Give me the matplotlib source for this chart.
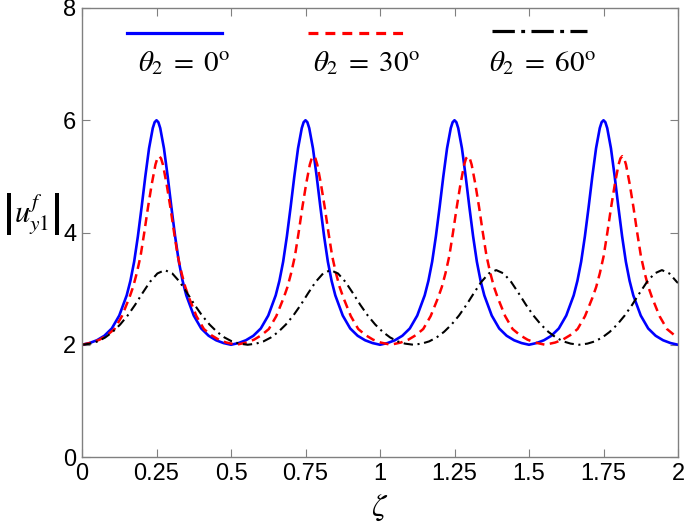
import matplotlib
matplotlib.use("Agg")
import matplotlib.pyplot as plt

# ---------------- data ----------------
blue_x = [0.0, 0.025, 0.05, 0.075, 0.1, 0.125, 0.15, 0.1625, 0.175, 0.1875, 0.2, 0.2125, 0.225, 0.2375, 0.24375,
          0.25, 0.25625, 0.2625, 0.275, 0.2875, 0.3, 0.3125, 0.325, 0.3375, 0.35, 0.375, 0.4, 0.425, 0.45, 0.475,
          0.5, 0.525, 0.55, 0.575, 0.6, 0.625, 0.65, 0.6625, 0.675, 0.6875, 0.7, 0.7125, 0.725, 0.7375, 0.74375,
          0.75, 0.75625, 0.7625, 0.775, 0.7875, 0.8, 0.8125, 0.825, 0.8375, 0.85, 0.875, 0.9, 0.925, 0.95, 0.975,
          1.0, 1.025, 1.05, 1.075, 1.1, 1.125, 1.15, 1.1625, 1.175, 1.1875, 1.2, 1.2125, 1.225, 1.2375, 1.24375,
          1.25, 1.25625, 1.2625, 1.275, 1.2875, 1.3, 1.3125, 1.325, 1.3375, 1.35, 1.375, 1.4, 1.425, 1.45, 1.475,
          1.5, 1.525, 1.55, 1.575, 1.6, 1.625, 1.65, 1.6625, 1.675, 1.6875, 1.7, 1.7125, 1.725, 1.7375, 1.74375,
          1.75, 1.75625, 1.7625, 1.775, 1.7875, 1.8, 1.8125, 1.825, 1.8375, 1.85, 1.875, 1.9, 1.925, 1.95, 1.975,
          2.0]
blue_y = [2.00, 2.03, 2.08, 2.16, 2.29, 2.52, 2.88, 3.14, 3.48, 3.93, 4.45, 5.00, 5.50, 5.86, 5.965,
          6.00, 5.965, 5.86, 5.50, 5.00, 4.45, 3.93, 3.48, 3.14, 2.88, 2.52, 2.29, 2.16, 2.08, 2.03,
          2.00, 2.03, 2.08, 2.16, 2.29, 2.52, 2.88, 3.14, 3.48, 3.93, 4.45, 5.00, 5.50, 5.86, 5.965,
          6.00, 5.965, 5.86, 5.50, 5.00, 4.45, 3.93, 3.48, 3.14, 2.88, 2.52, 2.29, 2.16, 2.08, 2.03,
          2.00, 2.03, 2.08, 2.16, 2.29, 2.52, 2.88, 3.14, 3.48, 3.93, 4.45, 5.00, 5.50, 5.86, 5.965,
          6.00, 5.965, 5.86, 5.50, 5.00, 4.45, 3.93, 3.48, 3.14, 2.88, 2.52, 2.29, 2.16, 2.08, 2.03,
          2.00, 2.03, 2.08, 2.16, 2.29, 2.52, 2.88, 3.14, 3.48, 3.93, 4.45, 5.00, 5.50, 5.86, 5.965,
          6.00, 5.965, 5.86, 5.50, 5.00, 4.45, 3.93, 3.48, 3.14, 2.88, 2.52, 2.29, 2.16, 2.08, 2.03,
          2.00]

red_x = [0.0, 0.034, 0.059, 0.084, 0.109, 0.134, 0.159, 0.1715, 0.184, 0.1965, 0.209, 0.2215, 0.234, 0.2465, 0.25275,
         0.259, 0.26525, 0.2715, 0.284, 0.2965, 0.309, 0.3215, 0.334, 0.3465, 0.359, 0.384, 0.409, 0.434, 0.459, 0.484,
         0.518, 0.552, 0.577, 0.602, 0.627, 0.652, 0.677, 0.6895, 0.702, 0.7145, 0.727, 0.7395, 0.752, 0.7645, 0.77075,
         0.777, 0.78325, 0.7895, 0.802, 0.8145, 0.827, 0.8395, 0.852, 0.8645, 0.877, 0.902, 0.927, 0.952, 0.977, 1.002,
         1.036, 1.07, 1.095, 1.12, 1.145, 1.17, 1.195, 1.2075, 1.22, 1.2325, 1.245, 1.2575, 1.27, 1.2825, 1.28875,
         1.295, 1.30125, 1.3075, 1.32, 1.3325, 1.345, 1.3575, 1.37, 1.3825, 1.395, 1.42, 1.445, 1.47, 1.495, 1.52,
         1.554, 1.588, 1.613, 1.638, 1.663, 1.688, 1.713, 1.7255, 1.738, 1.7505, 1.763, 1.7755, 1.788, 1.8005, 1.80675,
         1.813, 1.81925, 1.8255, 1.838, 1.8505, 1.863, 1.8755, 1.888, 1.9005, 1.913, 1.938, 1.963, 1.988,
         2.0]
red_y = [2.00, 2.04, 2.09, 2.17, 2.28, 2.51, 2.84, 3.03, 3.28, 3.58, 4.00, 4.45, 4.86, 5.21, 5.32,
         5.36, 5.32, 5.21, 4.86, 4.45, 4.00, 3.58, 3.28, 3.03, 2.84, 2.51, 2.28, 2.17, 2.09, 2.04,
         2.00, 2.04, 2.09, 2.17, 2.28, 2.51, 2.84, 3.03, 3.28, 3.58, 4.00, 4.45, 4.86, 5.21, 5.32,
         5.36, 5.32, 5.21, 4.86, 4.45, 4.00, 3.58, 3.28, 3.03, 2.84, 2.51, 2.28, 2.17, 2.09, 2.04,
         2.00, 2.04, 2.09, 2.17, 2.28, 2.51, 2.84, 3.03, 3.28, 3.58, 4.00, 4.45, 4.86, 5.21, 5.32,
         5.36, 5.32, 5.21, 4.86, 4.45, 4.00, 3.58, 3.28, 3.03, 2.84, 2.51, 2.28, 2.17, 2.09, 2.04,
         2.00, 2.04, 2.09, 2.17, 2.28, 2.51, 2.84, 3.03, 3.28, 3.58, 4.00, 4.45, 4.86, 5.21, 5.32,
         5.36, 5.32, 5.21, 4.86, 4.45, 4.00, 3.58, 3.28, 3.03, 2.84, 2.51, 2.28, 2.17,
         2.14]

black_x = [0.0, 0.028, 0.053, 0.078, 0.103, 0.128, 0.153, 0.178, 0.203, 0.228, 0.253,
           0.278, 0.303, 0.328, 0.353, 0.378, 0.403, 0.428, 0.453, 0.478, 0.503, 0.528,
           0.556, 0.584, 0.609, 0.634, 0.659, 0.684, 0.709, 0.734, 0.759, 0.784, 0.809,
           0.834, 0.859, 0.884, 0.909, 0.934, 0.959, 0.984, 1.009, 1.034, 1.059, 1.084,
           1.112, 1.140, 1.165, 1.190, 1.215, 1.240, 1.265, 1.290, 1.315, 1.340, 1.365,
           1.390, 1.415, 1.440, 1.465, 1.490, 1.515, 1.540, 1.565, 1.590, 1.615, 1.640,
           1.668, 1.696, 1.721, 1.746, 1.771, 1.796, 1.821, 1.846, 1.871, 1.896, 1.921,
           1.946, 1.971, 1.996, 2.0]
black_y = [2.00, 2.02, 2.06, 2.13, 2.23, 2.36, 2.52, 2.71, 2.92, 3.12, 3.27,
           3.33, 3.27, 3.12, 2.92, 2.71, 2.52, 2.36, 2.23, 2.13, 2.06, 2.02,
           2.00, 2.02, 2.06, 2.13, 2.23, 2.36, 2.52, 2.71, 2.92, 3.12, 3.27,
           3.33, 3.27, 3.12, 2.92, 2.71, 2.52, 2.36, 2.23, 2.13, 2.06, 2.02,
           2.00, 2.02, 2.06, 2.13, 2.23, 2.36, 2.52, 2.71, 2.92, 3.12, 3.27,
           3.33, 3.27, 3.12, 2.92, 2.71, 2.52, 2.36, 2.23, 2.13, 2.06, 2.02,
           2.00, 2.02, 2.06, 2.13, 2.23, 2.36, 2.52, 2.71, 2.92, 3.12, 3.27,
           3.33, 3.27, 3.12, 3.10]

x_ticks = [0, 0.25, 0.5, 0.75, 1, 1.25, 1.5, 1.75, 2]
x_tick_labels = ["0", "0.25", "0.5", "0.75", "1", "1.25", "1.5", "1.75", "2"]
y_ticks = [0, 2, 4, 6, 8]
y_tick_labels = ["0", "2", "4", "6", "8"]
series_labels = [r"$\theta_2\;=\;0^{\mathrm{o}}$", r"$\theta_2\;=\;30^{\mathrm{o}}$", r"$\theta_2\;=\;60^{\mathrm{o}}$"]

# ---------------- figure ----------------
plt.rcParams["font.family"] = ["Liberation Sans", "DejaVu Sans"]
plt.rcParams["mathtext.fontset"] = "stix"

fig = plt.figure(figsize=(6.85, 5.28), dpi=100)
ax = fig.add_axes([82 / 685, 1 - 457 / 528, 596 / 685, 449 / 528])

l1, = ax.plot(blue_x, blue_y, color="#0000ff", lw=1.9, linestyle="-")
l2, = ax.plot(red_x, red_y, color="#ff0000", lw=1.8, linestyle=(0, (3.6, 2.2)))
l3, = ax.plot(black_x, black_y, color="black", lw=1.5, linestyle=(0, (4.5, 2.2, 1, 2.2)))

ax.set_xlim(0, 2)
ax.set_ylim(0, 8)
ax.set_xticks(x_ticks)
ax.set_xticklabels(x_tick_labels)
ax.set_yticks(y_ticks)
ax.set_yticklabels(y_tick_labels)
ax.tick_params(direction="in", length=6, width=0.8, color="#808080", labelsize=17,
               top=True, right=True, pad=4)
for s in ax.spines.values():
    s.set_color("#808080")
    s.set_linewidth(1.0)

ax.set_xlabel(r"$\zeta$", fontsize=23)
ax.xaxis.set_label_coords(0.5, -0.08)
ax.set_ylabel(r"$\left|u_{y1}^{f}\right|$", fontsize=22, rotation=0)
ax.yaxis.set_label_coords(-0.085, 0.49)

# legend drawn as handle above its text, like the reference
handles = [l1, l2, l3]
legend_styles = ["-", (0, (3.1, 2.2)), (0, (7, 2, 1.2, 2))]
seg_x = [(0.0755, 0.235), (0.379, 0.542), (0.688, 0.847)]
seg_y = [0.944, 0.944, 0.949]
txt_x = [0.172, 0.477, 0.772]
for h, ls, (xa, xb), yy, tx, lab in zip(handles, legend_styles, seg_x, seg_y, txt_x, series_labels):
    ax.plot([xa, xb], [yy, yy], transform=ax.transAxes, color=h.get_color(),
            lw=2.3, linestyle=ls, clip_on=False)
    ax.text(tx, 0.878, lab, transform=ax.transAxes, fontsize=21, ha="center", va="center")

fig.savefig("out.png", dpi=100)
